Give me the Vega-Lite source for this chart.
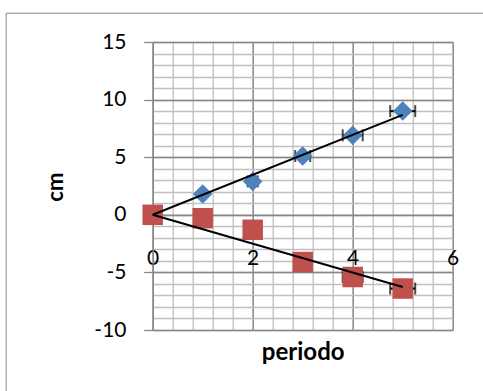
{
  "$schema": "https://vega.github.io/schema/vega-lite/v6.json",
  "width": 300,
  "height": 288,
  "autosize": {"type": "none"},
  "padding": {"left": 152.7, "top": 42, "right": 30.3, "bottom": 61},
  "background": "white",
  "config": {"view": {"stroke": null}, "font": "Lato"},
  "datasets": {
    "pts": [
      {"series": "A", "x": 0, "y": 0, "xlo": 0, "xhi": 0},
      {"series": "A", "x": 1, "y": 1.8, "xlo": 0.95, "xhi": 1.05},
      {"series": "A", "x": 2, "y": 2.9, "xlo": 1.9, "xhi": 2.1},
      {"series": "A", "x": 3, "y": 5.1, "xlo": 2.85, "xhi": 3.15},
      {"series": "A", "x": 4, "y": 6.9, "xlo": 3.8, "xhi": 4.2},
      {"series": "A", "x": 5, "y": 9.0, "xlo": 4.75, "xhi": 5.25},
      {"series": "B", "x": 0, "y": 0, "xlo": 0, "xhi": 0},
      {"series": "B", "x": 1, "y": -0.3, "xlo": 0.95, "xhi": 1.05},
      {"series": "B", "x": 2, "y": -1.3, "xlo": 1.9, "xhi": 2.1},
      {"series": "B", "x": 3, "y": -4.1, "xlo": 2.85, "xhi": 3.15},
      {"series": "B", "x": 4, "y": -5.4, "xlo": 3.8, "xhi": 4.2},
      {"series": "B", "x": 5, "y": -6.4, "xlo": 4.75, "xhi": 5.25}
    ],
    "trend": [
      {"series": "A", "x": 0, "y": 0},
      {"series": "A", "x": 5, "y": 8.68},
      {"series": "B", "x": 0, "y": 0},
      {"series": "B", "x": 5, "y": -6.27}
    ]
  },
  "resolve": {"axis": {"x": "independent", "y": "independent"}},
  "layer": [
    {
      "data": {"values": [{}]},
      "mark": {"type": "rect", "fillOpacity": 0, "stroke": "#898989", "strokeWidth": 1, "clip": false},
      "encoding": {
        "x": {"datum": -2.93, "type": "quantitative", "scale": {"domain": [0, 6], "nice": false, "zero": false}, "axis": null},
        "x2": {"datum": 9},
        "y": {"datum": 17.5, "type": "quantitative", "scale": {"domain": [-10, 15], "nice": false, "zero": false}, "axis": null},
        "y2": {"datum": -16}
      }
    },
    {
      "data": {"name": "pts"},
      "mark": {"type": "rule", "color": "black", "strokeWidth": 2},
      "encoding": {
        "x": {"field": "xlo", "type": "quantitative", "scale": {"domain": [0, 6], "nice": false, "zero": false},
          "axis": {"orient": "bottom", "grid": true, "gridColor": "#c0c0c0", "gridWidth": 1.3, "labels": false, "ticks": false, "domain": false, "title": null,
            "values": [0, 0.4, 0.8, 1.2, 1.6, 2, 2.4, 2.8, 3.2, 3.6, 4, 4.4, 4.8, 5.2, 5.6, 6]}},
        "x2": {"field": "xhi"},
        "y": {"field": "y", "type": "quantitative", "scale": {"domain": [-10, 15], "nice": false, "zero": false},
          "axis": {"orient": "left", "grid": true, "gridColor": "#c0c0c0", "gridWidth": 1.3, "labels": false, "ticks": false, "domain": false, "title": null,
            "values": [-10, -9, -8, -7, -6, -5, -4, -3, -2, -1, 0, 1, 2, 3, 4, 5, 6, 7, 8, 9, 10, 11, 12, 13, 14, 15]}}
      }
    },
    {
      "data": {"name": "pts"},
      "mark": {"type": "tick", "orient": "vertical", "color": "black", "size": 12, "thickness": 2},
      "encoding": {
        "x": {"field": "xlo", "type": "quantitative", "scale": {"domain": [0, 6], "nice": false, "zero": false},
          "axis": {"orient": "bottom", "grid": true, "gridColor": "#868686", "gridWidth": 1.3, "labels": false, "ticks": false, "domain": false, "title": null,
            "values": [0, 2, 4, 6]}},
        "y": {"field": "y", "type": "quantitative", "scale": {"domain": [-10, 15], "nice": false, "zero": false},
          "axis": {"orient": "left", "grid": true, "gridColor": "#868686", "gridWidth": 1.3, "labels": false, "ticks": false, "domain": false, "title": null,
            "values": [-10, -5, 0, 5, 10, 15]}}
      }
    },
    {
      "data": {"name": "pts"},
      "mark": {"type": "tick", "orient": "vertical", "color": "black", "size": 12, "thickness": 2},
      "encoding": {
        "x": {"field": "xhi", "type": "quantitative", "scale": {"domain": [0, 6], "nice": false, "zero": false}, "axis": null},
        "y": {"field": "y", "type": "quantitative", "scale": {"domain": [-10, 15], "nice": false, "zero": false}, "axis": null}
      }
    },
    {
      "data": {"name": "pts"},
      "transform": [{"filter": "datum.series === 'A'"}],
      "mark": {"type": "point", "shape": "diamond", "filled": true, "opacity": 1, "color": "#4F81BD", "size": 380},
      "encoding": {
        "x": {"field": "x", "type": "quantitative", "scale": {"domain": [0, 6], "nice": false, "zero": false},
          "axis": {"orient": "bottom", "offset": -115.2, "grid": false, "ticks": false, "tickSize": 0, "domain": true, "domainColor": "#868686", "domainWidth": 1.3,
            "values": [0, 2, 4, 6], "labelExpr": "'' + datum.value", "labelFont": "Lato", "labelFontSize": 21, "labelColor": "black",
            "labelPadding": 33, "labelFlush": false, "labelOverlap": false, "labelBaseline": "top",
            "title": "periodo", "titleFont": "Lato", "titleFontSize": 24, "titleFontWeight": "bold", "titleColor": "black",
            "titleBaseline": "alphabetic", "titleAlign": "center", "titleX": 150, "titleY": 144.5}},
        "y": {"field": "y", "type": "quantitative", "scale": {"domain": [-10, 15], "nice": false, "zero": false},
          "axis": {"orient": "left", "grid": false, "ticks": true, "tickSize": 9, "tickColor": "#868686", "tickWidth": 1.3, "domain": true, "domainColor": "#868686", "domainWidth": 1.3,
            "values": [-10, -5, 0, 5, 10, 15], "labelExpr": "'' + datum.value", "labelFont": "Lato", "labelFontSize": 21, "labelColor": "black",
            "labelPadding": 17.7, "labelFlush": false, "labelOverlap": false,
            "title": "cm", "titleFont": "Lato", "titleFontSize": 22, "titleFontWeight": "bold", "titleColor": "black",
            "titleAngle": -90, "titleBaseline": "alphabetic", "titleAlign": "center", "titleX": -90, "titleY": 144.7}}
      }
    },
    {
      "data": {"name": "pts"},
      "transform": [{"filter": "datum.series === 'B'"}],
      "mark": {"type": "point", "shape": "square", "filled": true, "opacity": 1, "color": "#C0504D", "size": 420},
      "encoding": {
        "x": {"field": "x", "type": "quantitative", "scale": {"domain": [0, 6], "nice": false, "zero": false}, "axis": null},
        "y": {"field": "y", "type": "quantitative", "scale": {"domain": [-10, 15], "nice": false, "zero": false}, "axis": null}
      }
    },
    {
      "data": {"name": "trend"},
      "mark": {"type": "line", "color": "black", "strokeWidth": 2},
      "encoding": {
        "x": {"field": "x", "type": "quantitative", "scale": {"domain": [0, 6], "nice": false, "zero": false}, "axis": null},
        "y": {"field": "y", "type": "quantitative", "scale": {"domain": [-10, 15], "nice": false, "zero": false}, "axis": null},
        "detail": {"field": "series", "type": "nominal"}
      }
    }
  ]
}
